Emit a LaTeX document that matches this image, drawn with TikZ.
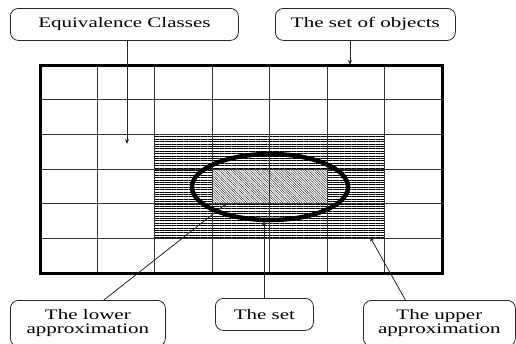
\documentclass[tikz,border=0pt]{standalone}
\usepackage{fontspec}
\newfontfamily\lblfont[FakeStretch=1.45]{Liberation Serif}
\usetikzlibrary{arrows.meta,positioning,calc,patterns.meta}
\tikzset{
  blk/.style   ={draw=black!85,fill=white,rounded corners=8pt,line width=0.8pt,
                 align=center,inner sep=0pt,font=\lblfont\fontsize{14.5}{14}\selectfont,
                 anchor=north west},
  sig/.style   ={-{Stealth[length=5pt,width=4pt]},draw=black!85,line width=0.8pt},
  gridln/.style={draw=black!80,line width=0.8pt},
  frm/.style   ={draw=black,line width=3pt},
  upfill/.style={pattern={Lines[angle=0,distance=2.4pt,line width=0.55pt]}},
  lofill/.style={fill=white,postaction={pattern={Lines[angle=-45,distance=1.7pt,line width=0.3pt]}}},
}
\begin{document}
\begin{tikzpicture}[x=1pt,y=-1pt]
\clip (0,0) rectangle (516,343);

% upper and lower approximation cells
\path[upfill] (154.9,134.3) rectangle (384.6,238.3);
\path[lofill] (212.3,169.0) rectangle (327.2,203.7);

% equivalence classes: 7 x 6 cells
\foreach \i in {1,...,6}
  \draw[gridln] ({40+57.43*\i},65) -- ({40+57.43*\i},273);
\foreach \j in {1,...,5}
  \draw[gridln] (40,{65+34.67*\j}) -- (442,{65+34.67*\j});
\draw[frm] (40,65) rectangle (442,273);

% the set
\draw[line width=4.5pt] (270,187) ellipse [x radius=78, y radius=33];

\node[blk,minimum width=228,minimum height=32] (eq)  at (10,8)   {Equivalence Classes};
\node[blk,minimum width=180,minimum height=32] (obj) at (275,8)  {The set of objects};
\node[blk,minimum width=155,minimum height=46] (low) at (10,300) {The lower\\approximation};
\node[blk,minimum width=98, minimum height=32] (set) at (215,298) {The set};
\node[blk,minimum width=152,minimum height=46] (upp) at (363,300) {The upper\\approximation};

\coordinate (eqtip)  at (127,144);
\coordinate (objtip) at (350,65);
\coordinate (lowtip) at (227,203);
\coordinate (settip) at (264,221);
\coordinate (upptip) at (370,237);

\draw[sig] (eqtip |- eq.south) -- (eqtip);
\draw[sig] (objtip |- obj.south) -- (objtip);
\draw[sig] ([xshift=16pt]low.north) -- (lowtip);
\draw[sig] (settip |- set.north) -- (settip);
\draw[sig] ([xshift=-34pt]upp.north) -- (upptip);
\end{tikzpicture}
\end{document}
